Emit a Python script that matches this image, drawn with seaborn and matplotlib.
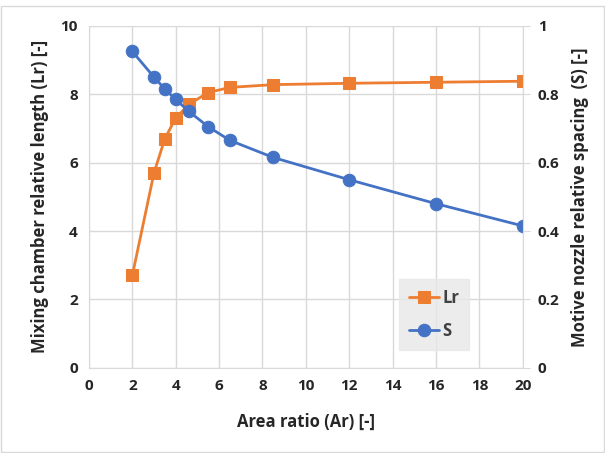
import matplotlib.pyplot as plt
import pandas as pd
import seaborn as sns

# Data
area_ratio = [2, 3, 3.5, 4, 4.6, 5.5, 6.5, 8.5, 12, 16, 20]
lr_values = [2.7, 5.7, 6.7, 7.3, 7.7, 8.05, 8.2, 8.28, 8.32, 8.35, 8.38]
s_values = [0.925, 0.85, 0.815, 0.785, 0.75, 0.705, 0.665, 0.615, 0.55, 0.48, 0.415]
x_ticks = [0, 2, 4, 6, 8, 10, 12, 14, 16, 18, 20]
y_ticks = [0, 2, 4, 6, 8, 10]
y2_ticks = [0, 0.2, 0.4, 0.6, 0.8, 1]
y2_labels = ['0', '0.2', '0.4', '0.6', '0.8', '1']

df = pd.DataFrame({'Ar': area_ratio, 'Lr': lr_values, 'S': s_values})

sns.set_style('white')
plt.rcParams['font.family'] = ['Open Sans', 'DejaVu Sans']

orange = '#ed7d31'
blue = '#4472c4'
grid_c = '#d9d9d9'
text_c = '#262626'

fig, ax = plt.subplots(figsize=(6.05, 4.53), dpi=100)
fig.subplots_adjust(left=0.147, right=0.864, top=0.943, bottom=0.188)

ax2 = ax.twinx()
sns.lineplot(data=df, x='Ar', y='Lr', ax=ax, color=orange, marker='s',
             markersize=8, markeredgecolor=orange, linewidth=2, legend=False)
sns.lineplot(data=df, x='Ar', y='S', ax=ax2, color=blue, marker='o',
             markersize=9, markeredgecolor=blue, linewidth=2, legend=False)

ax.set_xlim(0, 20)
ax.set_ylim(0, 10)
ax2.set_ylim(0, 1)
ax.set_xticks(x_ticks)
ax.set_yticks(y_ticks)
ax2.set_yticks(y2_ticks)
ax2.set_yticklabels(y2_labels)

ax2.grid(False)
ax.grid(True, color=grid_c, linewidth=1)
ax.set_axisbelow(True)

for a in (ax, ax2):
    for sp in a.spines.values():
        sp.set_visible(False)
ax.spines['left'].set_visible(True)
ax.spines['left'].set_color(grid_c)
ax.spines['bottom'].set_visible(True)
ax.spines['bottom'].set_color(grid_c)
ax2.spines['right'].set_visible(True)
ax2.spines['right'].set_color(grid_c)

ax.tick_params(axis='both', length=0, labelsize=11, colors=text_c, pad=8)
ax2.tick_params(axis='y', length=5, color=grid_c, labelsize=11, labelcolor=text_c, pad=6)
for lab in ax.get_xticklabels() + ax.get_yticklabels() + ax2.get_yticklabels():
    lab.set_fontweight('bold')

ax.set_xlabel('Area ratio (Ar) [-]', fontsize=12, fontweight='bold', color=text_c, labelpad=14)
ax.set_ylabel('Mixing chamber relative length (Lr) [-]', fontsize=12, fontweight='bold',
              color=text_c, labelpad=8)
ax2.set_ylabel('Motive nozzle relative spacing  (S) [-]', fontsize=12, fontweight='bold',
               color=text_c, labelpad=8)

handles = ax.get_lines()[:1] + ax2.get_lines()[:1]
leg = ax2.legend(handles, ['Lr', 'S'], loc='center', bbox_to_anchor=(0.795, 0.155),
                 frameon=True, fancybox=False, fontsize=12, handlelength=1.8,
                 handletextpad=0.2, borderpad=0.6, labelspacing=0.9)
leg.get_frame().set_facecolor('#e8e8e8')
leg.get_frame().set_edgecolor('#e8e8e8')
for t in leg.get_texts():
    t.set_fontweight('bold')
    t.set_color('#404040')

fig.patches.append(plt.Rectangle((0.002, 0.002), 0.996, 0.984, transform=fig.transFigure,
                                 fill=False, edgecolor='#d9d9d9', linewidth=1))

fig.savefig('out.png', dpi=100)
